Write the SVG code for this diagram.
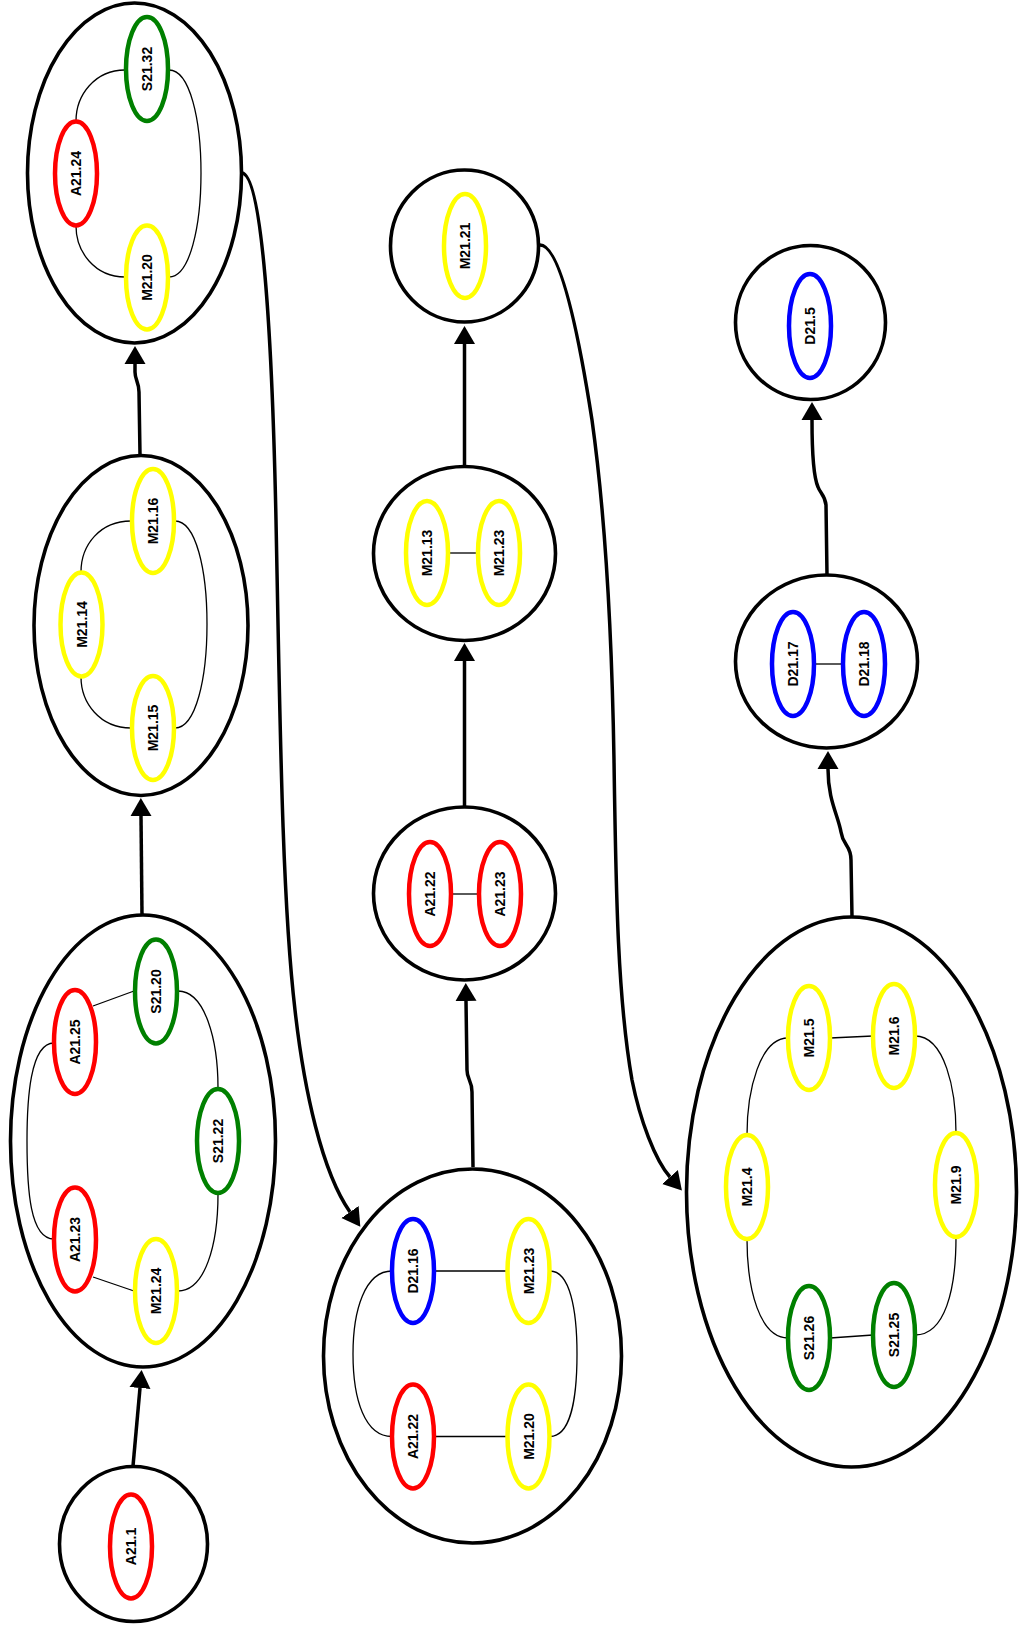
<svg xmlns="http://www.w3.org/2000/svg" width="1026" height="1630" viewBox="0 0 1026 1630">
<defs>
<marker id="ah" markerUnits="userSpaceOnUse" markerWidth="20" markerHeight="22" refX="0" refY="11" orient="auto">
<path d="M0,0.5 L18,11 L0,21.5 z" fill="#000"/>
</marker>
<style>
.cl{fill:none;stroke:#000;stroke-width:3.6}
.n{fill:none;stroke-width:4.5}
.r{stroke:#ff0000}.g{stroke:#008000}.y{stroke:#ffff00}.b{stroke:#0000ff}
.e{fill:none;stroke:#000;stroke-width:1.3}
.c{fill:none;stroke:#000;stroke-width:3.5}
text{font-family:"Liberation Sans",Arial,sans-serif;font-size:14px;font-weight:bold;fill:#000;text-anchor:middle;dominant-baseline:central}
</style>
</defs>
<rect width="1026" height="1630" fill="#fff"/>

<g id="connectors">
<path class="c" d="M133,1466 L140,1388" marker-end="url(#ah)"/>
<path class="c" d="M142,915 L141,816" marker-end="url(#ah)"/>
<path class="c" d="M140,455 L139,392 C 139,382 135,380 135,372 L135,364" marker-end="url(#ah)"/>
<path class="c" d="M242,173 C 262,175 272,330 276,520 C 280,720 282,900 295,1010 C 304,1090 322,1172 350,1212" marker-end="url(#ah)"/>
<path class="c" d="M473,1167 L472,1092 C 472,1080 467,1080 467,1070 L466,1001" marker-end="url(#ah)"/>
<path class="c" d="M464.5,806 L464.5,661" marker-end="url(#ah)"/>
<path class="c" d="M464.5,466 L464.5,344" marker-end="url(#ah)"/>
<path class="c" d="M540,245 C 560,245 578,330 592,420 C 606,520 612,640 614,760 C 616,900 618,1000 632,1080 C 640,1120 655,1160 670,1177" marker-end="url(#ah)"/>
<path class="c" d="M852,917 L851,860 C 851,845 843,846 841,832 C 838,815 828,800 828,769" marker-end="url(#ah)"/>
<path class="c" d="M827,575 L826,505 C 825,495 820,493 818,487 C 814,478 812,460 812,420" marker-end="url(#ah)"/>
</g>

<g id="cluster1">
<ellipse class="cl" cx="134.5" cy="173" rx="107" ry="170"/>
<path class="e" d="M125,70 C 95,70 76,95 76,121"/>
<path class="e" d="M76,226 C 76,252 95,277 125,277"/>
<path class="e" d="M169,70 C 190,70 201,120 201,173 C 201,226 190,277 169,277"/>
<g id="c1_S21_32"><ellipse class="n g" cx="147" cy="69" rx="21" ry="52"/><text transform="translate(147,69) rotate(-90)">S21.32</text></g>
<g id="c1_A21_24"><ellipse class="n r" cx="76" cy="173.5" rx="21" ry="52"/><text transform="translate(76,173.5) rotate(-90)">A21.24</text></g>
<g id="c1_M21_20"><ellipse class="n y" cx="147" cy="277.5" rx="21" ry="52"/><text transform="translate(147,277.5) rotate(-90)">M21.20</text></g>
</g>

<g id="cluster2">
<ellipse class="cl" cx="141" cy="625.5" rx="107" ry="170"/>
<path class="e" d="M131,521 C 100,521 81,545 81,572"/>
<path class="e" d="M81,677 C 81,703 100,728 131,728"/>
<path class="e" d="M175,521 C 196,521 207,570 207,624 C 207,678 196,728 175,728"/>
<g id="c2_M21_16"><ellipse class="n y" cx="153" cy="521" rx="21" ry="52"/><text transform="translate(153,521) rotate(-90)">M21.16</text></g>
<g id="c2_M21_14"><ellipse class="n y" cx="81.5" cy="624.5" rx="21" ry="52"/><text transform="translate(81.5,624.5) rotate(-90)">M21.14</text></g>
<g id="c2_M21_15"><ellipse class="n y" cx="153" cy="728" rx="21" ry="52"/><text transform="translate(153,728) rotate(-90)">M21.15</text></g>
</g>

<g id="cluster3">
<ellipse class="cl" cx="143" cy="1141" rx="132.5" ry="226"/>
<path class="e" d="M93,1006 L134,991"/>
<path class="e" d="M93,1277 L134,1291"/>
<path class="e" d="M178,991 C 205,991 218,1040 218,1088"/>
<path class="e" d="M218,1194 C 218,1245 205,1291 178,1291"/>
<path class="e" d="M54,1043 C 30,1043 27,1100 27,1141 C 27,1190 30,1239 54,1239"/>
<g id="c3_S21_20"><ellipse class="n g" cx="156" cy="991.5" rx="21" ry="52"/><text transform="translate(156,991.5) rotate(-90)">S21.20</text></g>
<g id="c3_A21_25"><ellipse class="n r" cx="75" cy="1042" rx="21" ry="52"/><text transform="translate(75,1042) rotate(-90)">A21.25</text></g>
<g id="c3_S21_22"><ellipse class="n g" cx="218" cy="1141" rx="21" ry="52"/><text transform="translate(218,1141) rotate(-90)">S21.22</text></g>
<g id="c3_A21_23"><ellipse class="n r" cx="75" cy="1239.5" rx="21" ry="52"/><text transform="translate(75,1239.5) rotate(-90)">A21.23</text></g>
<g id="c3_M21_24"><ellipse class="n y" cx="156" cy="1291" rx="21" ry="52"/><text transform="translate(156,1291) rotate(-90)">M21.24</text></g>
</g>

<g id="cluster4">
<ellipse class="cl" cx="133.5" cy="1544" rx="74" ry="77.5"/>
<g id="c4_A21_1"><ellipse class="n r" cx="131" cy="1546.5" rx="21" ry="52"/><text transform="translate(131,1546.5) rotate(-90)">A21.1</text></g>
</g>

<g id="cluster5">
<ellipse class="cl" cx="472.5" cy="1356" rx="149" ry="187"/>
<path class="e" d="M434,1271 L507,1271"/>
<path class="e" d="M434,1436.5 L507,1436.5"/>
<path class="e" d="M392,1271 C 365,1271 353,1310 353,1354 C 353,1400 365,1436.5 392,1436.5"/>
<path class="e" d="M550,1271 C 570,1271 577,1310 577,1354 C 577,1400 570,1436.5 550,1436.5"/>
<g id="c5_D21_16"><ellipse class="n b" cx="413" cy="1271" rx="21" ry="52"/><text transform="translate(413,1271) rotate(-90)">D21.16</text></g>
<g id="c5_M21_23"><ellipse class="n y" cx="528.5" cy="1271" rx="21" ry="52"/><text transform="translate(528.5,1271) rotate(-90)">M21.23</text></g>
<g id="c5_A21_22"><ellipse class="n r" cx="413" cy="1436.5" rx="21" ry="52"/><text transform="translate(413,1436.5) rotate(-90)">A21.22</text></g>
<g id="c5_M21_20"><ellipse class="n y" cx="528.5" cy="1436.5" rx="21" ry="52"/><text transform="translate(528.5,1436.5) rotate(-90)">M21.20</text></g>
</g>

<g id="cluster6">
<ellipse class="cl" cx="464.5" cy="893.5" rx="91" ry="86.5"/>
<path class="e" d="M451,894 L479,894"/>
<g id="c6_A21_22"><ellipse class="n r" cx="430" cy="894" rx="21" ry="52"/><text transform="translate(430,894) rotate(-90)">A21.22</text></g>
<g id="c6_A21_23"><ellipse class="n r" cx="500" cy="894" rx="21" ry="52"/><text transform="translate(500,894) rotate(-90)">A21.23</text></g>
</g>

<g id="cluster7">
<ellipse class="cl" cx="464.5" cy="553.5" rx="91" ry="87"/>
<path class="e" d="M448,553 L478,553"/>
<g id="c7_M21_13"><ellipse class="n y" cx="427" cy="553" rx="21" ry="52"/><text transform="translate(427,553) rotate(-90)">M21.13</text></g>
<g id="c7_M21_23"><ellipse class="n y" cx="499" cy="553" rx="21" ry="52"/><text transform="translate(499,553) rotate(-90)">M21.23</text></g>
</g>

<g id="cluster8">
<ellipse class="cl" cx="464.5" cy="246" rx="74" ry="76"/>
<g id="c8_M21_21"><ellipse class="n y" cx="465" cy="246" rx="21" ry="52"/><text transform="translate(465,246) rotate(-90)">M21.21</text></g>
</g>

<g id="cluster9">
<ellipse class="cl" cx="851.5" cy="1192" rx="165" ry="275"/>
<path class="e" d="M830,1038 L873,1036"/>
<path class="e" d="M830,1338 L873,1335"/>
<path class="e" d="M788,1038 C 760,1038 747,1090 747,1135"/>
<path class="e" d="M747,1239 C 747,1290 760,1338 788,1338"/>
<path class="e" d="M915,1036 C 945,1036 956,1090 956,1133"/>
<path class="e" d="M956,1237 C 956,1290 945,1335 915,1335"/>
<g id="c9_M21_5"><ellipse class="n y" cx="809" cy="1038" rx="21" ry="52"/><text transform="translate(809,1038) rotate(-90)">M21.5</text></g>
<g id="c9_M21_6"><ellipse class="n y" cx="894" cy="1036" rx="21" ry="52"/><text transform="translate(894,1036) rotate(-90)">M21.6</text></g>
<g id="c9_M21_4"><ellipse class="n y" cx="747" cy="1187" rx="21" ry="52"/><text transform="translate(747,1187) rotate(-90)">M21.4</text></g>
<g id="c9_M21_9"><ellipse class="n y" cx="956" cy="1185" rx="21" ry="52"/><text transform="translate(956,1185) rotate(-90)">M21.9</text></g>
<g id="c9_S21_26"><ellipse class="n g" cx="809" cy="1338" rx="21" ry="52"/><text transform="translate(809,1338) rotate(-90)">S21.26</text></g>
<g id="c9_S21_25"><ellipse class="n g" cx="894" cy="1335" rx="21" ry="52"/><text transform="translate(894,1335) rotate(-90)">S21.25</text></g>
</g>

<g id="cluster10">
<ellipse class="cl" cx="826.5" cy="661.5" rx="91" ry="86.5"/>
<path class="e" d="M814,664 L843,664"/>
<g id="c10_D21_17"><ellipse class="n b" cx="793" cy="664" rx="21" ry="52"/><text transform="translate(793,664) rotate(-90)">D21.17</text></g>
<g id="c10_D21_18"><ellipse class="n b" cx="864" cy="664" rx="21" ry="52"/><text transform="translate(864,664) rotate(-90)">D21.18</text></g>
</g>

<g id="cluster11">
<ellipse class="cl" cx="810.5" cy="322.5" rx="75" ry="77"/>
<g id="c11_D21_5"><ellipse class="n b" cx="810" cy="326" rx="21" ry="52"/><text transform="translate(810,326) rotate(-90)">D21.5</text></g>
</g>
</svg>
